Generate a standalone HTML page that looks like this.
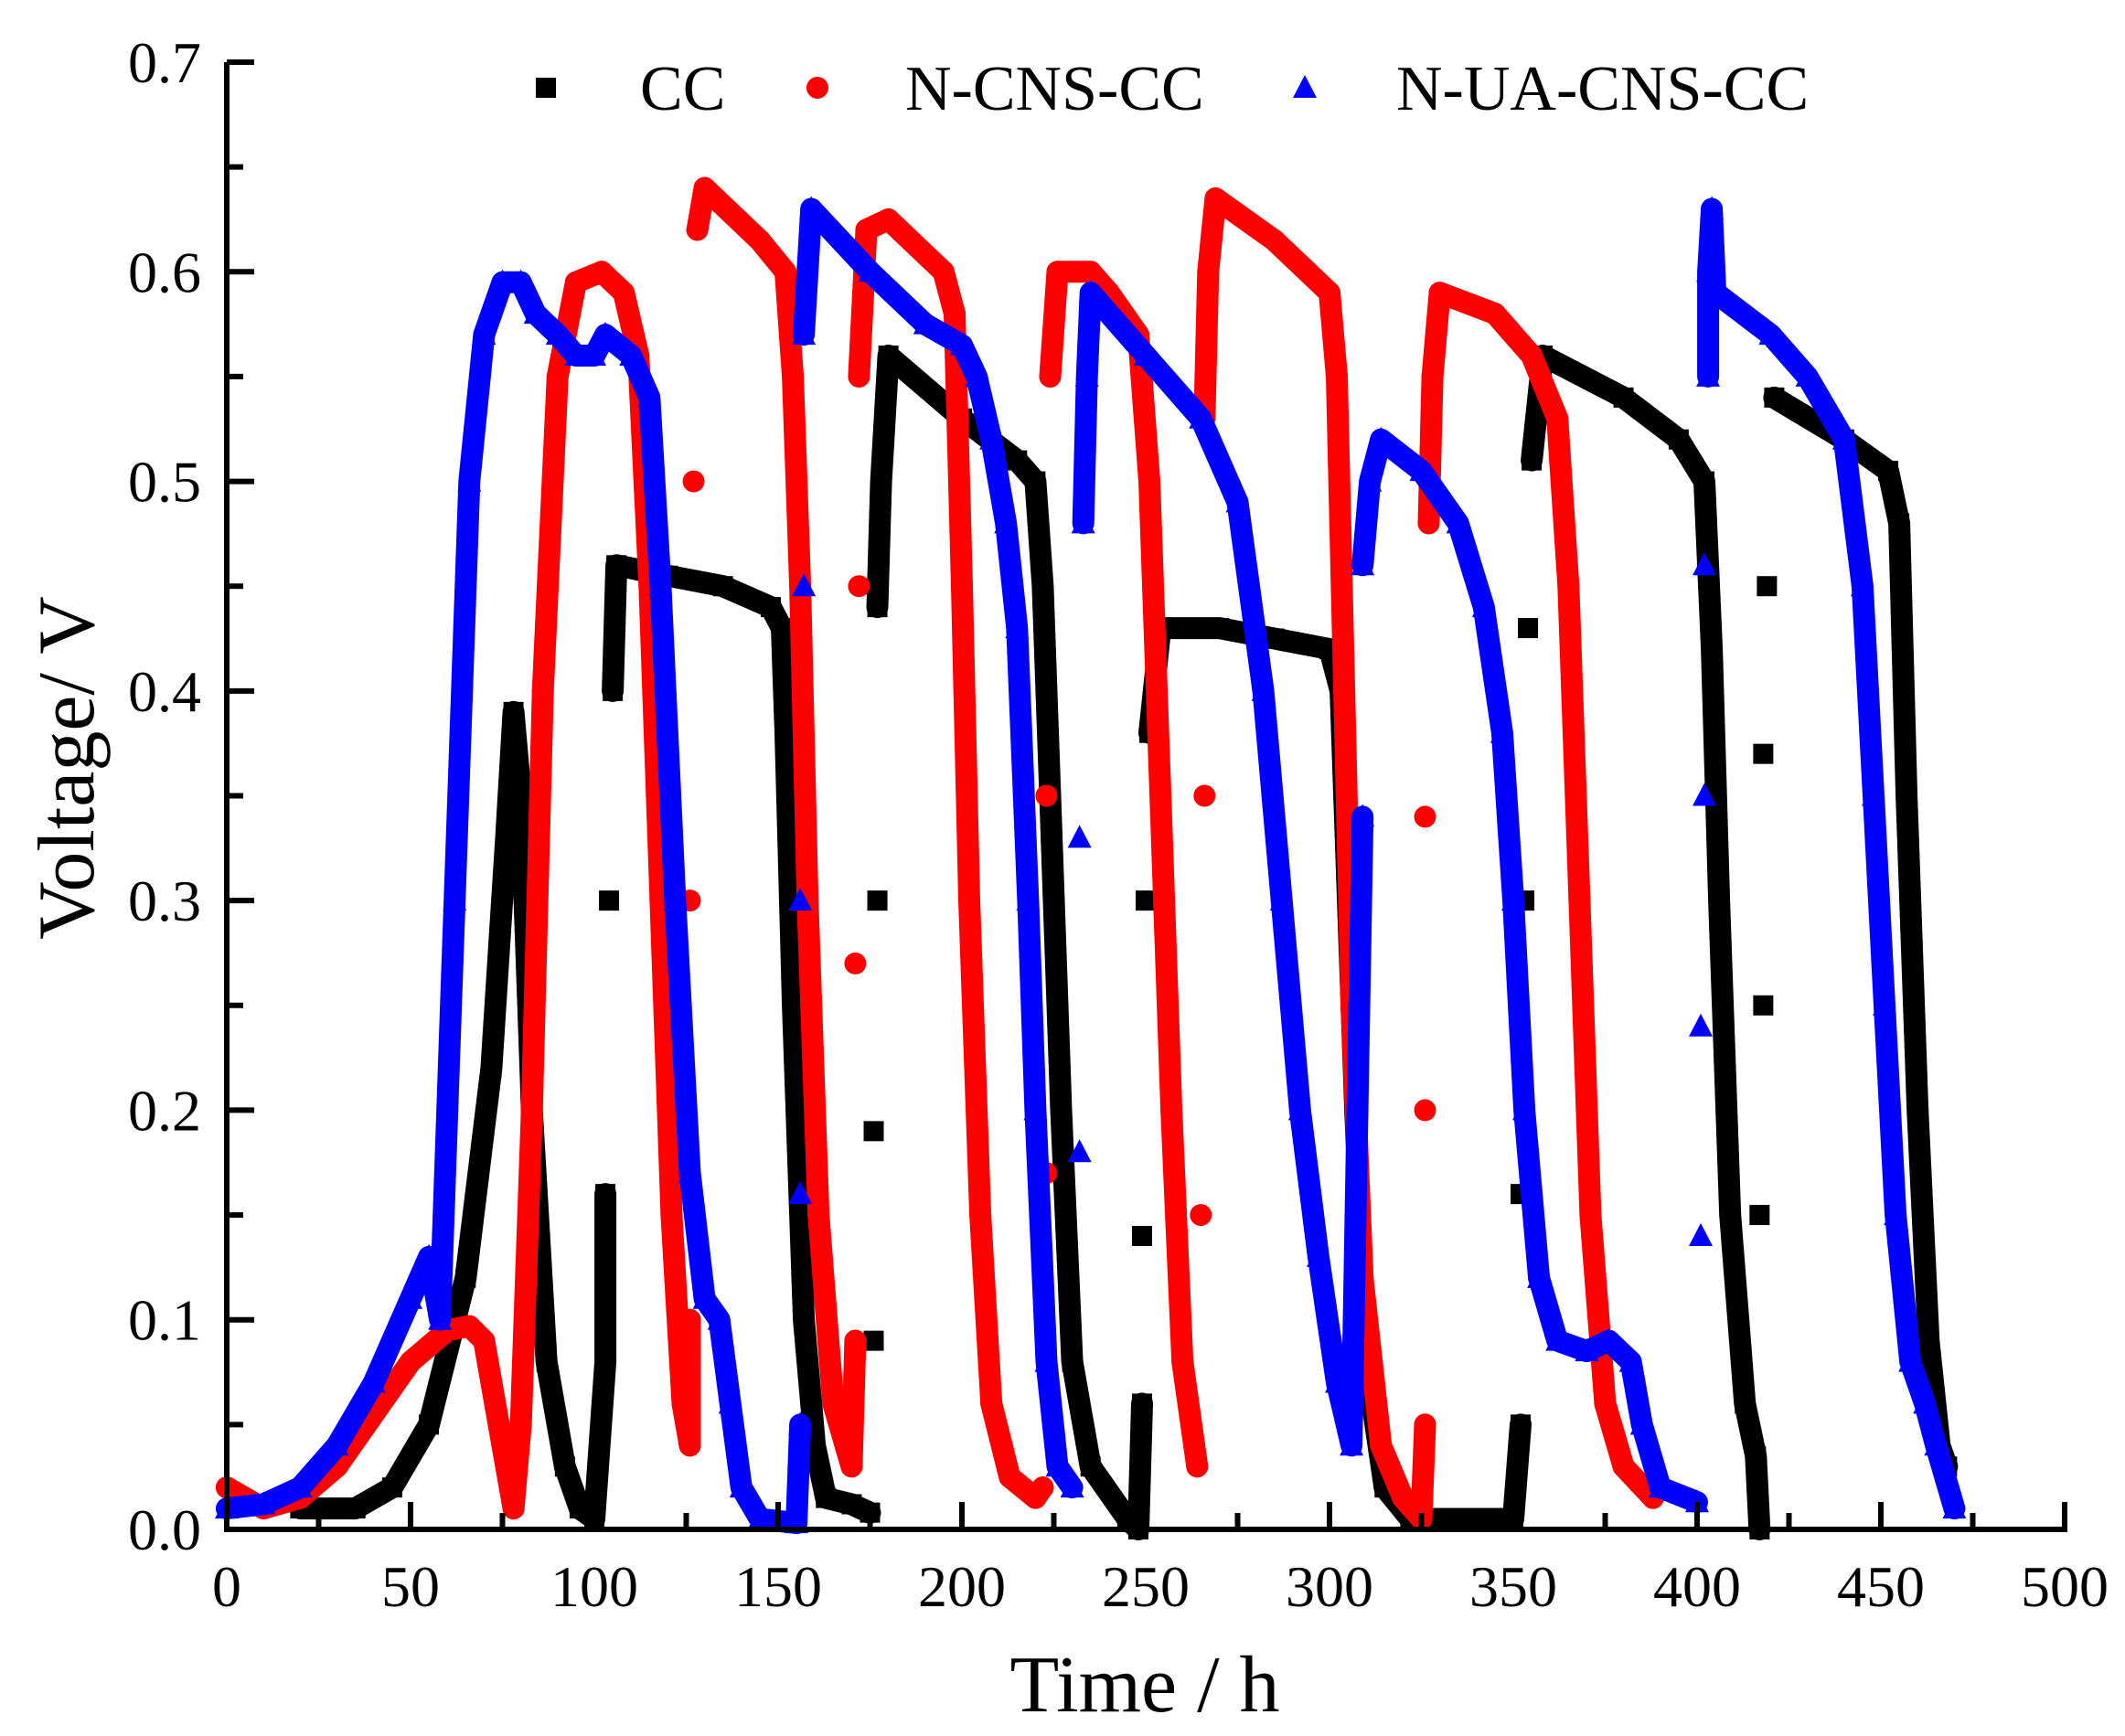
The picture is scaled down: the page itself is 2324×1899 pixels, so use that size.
<!DOCTYPE html>
<html><head><meta charset="utf-8"><style>
html,body{margin:0;padding:0;background:#fff;}
svg{display:block;font-family:"Liberation Serif",serif;}
</style></head><body>
<svg id="chart" width="2324" height="1899" viewBox="0 0 2324 1899" xmlns="http://www.w3.org/2000/svg">
<g id="plot"></g>
<g id="axes"></g>
<g id="legend"></g>
</svg>
<script>
const xTicks = [0,50,100,150,200,250,300,350,400,450,500];
const yTicks = [0.0,0.1,0.2,0.3,0.4,0.5,0.6,0.7];
const ccT = [20,35,45,55,65,72,76,78,80,83,87,92,96,100,103,103,104,105,106,120,135,148,151,152,154,157,160,163,170,175,176,176,177,177,178,180,200,215,220,222,224,227,230,235,245,248,249,249,250,251,254,270,285,300,303,305,307,310,315,322,350,352,352,353,354,355,358,380,395,402,404,406,409,413,416,417,417,418,418,419,421,440,452,455,457,460,463,466,468];
const ccV = [0.01,0.01,0.02,0.05,0.12,0.22,0.33,0.39,0.35,0.2,0.08,0.03,0.01,0.005,0.08,0.16,0.3,0.4,0.46,0.455,0.45,0.44,0.43,0.38,0.25,0.1,0.04,0.015,0.012,0.008,0.09,0.19,0.3,0.44,0.5,0.56,0.53,0.51,0.5,0.45,0.35,0.2,0.08,0.03,0.005,0.0,0.06,0.14,0.3,0.38,0.43,0.43,0.425,0.42,0.4,0.3,0.2,0.08,0.02,0.005,0.005,0.05,0.16,0.3,0.43,0.51,0.56,0.54,0.52,0.5,0.42,0.3,0.15,0.06,0.035,0.0,0.15,0.25,0.37,0.45,0.54,0.52,0.505,0.48,0.35,0.2,0.09,0.04,0.03];
const cnsT = [0,10,20,30,40,50,60,66,70,74,78,80,83,86,90,95,102,108,112,115,118,121,124,126,126,126,127,128,130,145,152,154,156,158,161,165,170,171,171,172,172,174,180,195,198,200,202,205,208,213,220,222,223,223,224,226,235,240,248,251,254,257,260,264,265,266,266,267,269,285,300,302,304,306,309,314,320,325,326,326,326,327,328,330,345,355,362,365,368,371,375,380,388];
const cnsV = [0.02,0.01,0.015,0.03,0.055,0.08,0.095,0.097,0.09,0.05,0.01,0.05,0.2,0.4,0.55,0.595,0.6,0.59,0.56,0.45,0.3,0.15,0.06,0.04,0.1,0.3,0.5,0.62,0.64,0.615,0.6,0.55,0.45,0.3,0.15,0.06,0.03,0.09,0.27,0.45,0.55,0.62,0.625,0.6,0.58,0.45,0.3,0.15,0.06,0.025,0.015,0.02,0.17,0.35,0.55,0.6,0.6,0.59,0.57,0.5,0.35,0.2,0.08,0.03,0.15,0.35,0.53,0.6,0.635,0.615,0.59,0.55,0.4,0.25,0.12,0.04,0.015,0.005,0.05,0.2,0.34,0.48,0.55,0.59,0.58,0.56,0.53,0.45,0.3,0.15,0.06,0.03,0.015];
const uaT = [0,10,20,30,40,50,55,58,62,66,70,75,80,84,90,95,100,103,110,115,118,122,126,130,134,137,140,145,155,156,156,156,157,157,159,175,190,200,204,208,212,215,218,220,223,226,230,232,232,233,234,235,250,265,275,282,287,292,297,302,306,309,309,311,314,325,335,342,347,350,353,357,362,370,376,382,385,390,400,401,401,402,402,403,403,404,405,420,430,440,445,448,451,454,458,462,465,470];
const uaV = [0.01,0.012,0.02,0.04,0.07,0.11,0.13,0.1,0.3,0.5,0.57,0.595,0.595,0.58,0.57,0.56,0.56,0.57,0.56,0.54,0.45,0.3,0.17,0.11,0.1,0.06,0.02,0.005,0.003,0.05,0.16,0.3,0.45,0.57,0.63,0.6,0.575,0.565,0.55,0.52,0.48,0.43,0.3,0.2,0.08,0.03,0.02,0.18,0.33,0.48,0.55,0.59,0.56,0.53,0.49,0.4,0.3,0.2,0.13,0.07,0.04,0.34,0.46,0.5,0.52,0.505,0.48,0.44,0.38,0.3,0.2,0.12,0.09,0.085,0.09,0.08,0.05,0.02,0.013,0.14,0.24,0.35,0.46,0.55,0.6,0.63,0.59,0.57,0.55,0.52,0.45,0.35,0.25,0.15,0.08,0.06,0.04,0.01];
const seriesNames = ["CC","N-CNS-CC","N-UA-CNS-CC"];

const NS="http://www.w3.org/2000/svg";
const X0=248,X1=2258,Y0=1673,Y1=68;
function xs(t){return X0+(t/500)*(X1-X0);}
function ys(v){return Y0-(v/0.7)*(Y0-Y1);}
function mk(tag,attrs,parent){const e=document.createElementNS(NS,tag);for(const k in attrs)e.setAttribute(k,attrs[k]);parent.appendChild(e);return e;}
const plot=document.getElementById('plot'),axes=document.getElementById('axes'),legend=document.getElementById('legend');

function marker(type,x,y,color,parent){
  let e;
  if(type==='sq'){e=mk('rect',{x:x-11,y:y-11,width:22,height:22,fill:color},parent);}
  else if(type==='ci'){e=mk('circle',{cx:x,cy:y,r:12,fill:color},parent);}
  else {e=mk('polygon',{points:`${x},${y-14} ${x-13},${y+11} ${x+13},${y+11}`,fill:color},parent);}
  return e;
}
function drawSeries(T,V,color,type,name){
  const g=mk('g',{},plot);
  
  
  let d='';
  for(let i=0;i<T.length;i++){
    const jump=i>0&&(V[i]-V[i-1])>0.08&&Math.abs(T[i]-T[i-1])<3;
    d+=(i===0||jump?'M':'L')+xs(T[i]).toFixed(1)+','+ys(V[i]).toFixed(1);
  }
  const p=mk('path',{d:d,fill:'none',stroke:color,'stroke-width':24,'stroke-linejoin':'round','stroke-linecap':'round'},g);
  
  
  for(let i=0;i<T.length;i++){
    const m=marker(type,xs(T[i]),ys(V[i]),color,g);
    
    
  }
}
drawSeries(ccT,ccV,'#000','sq','cc');
drawSeries(cnsT,cnsV,'#ff0000','ci','n-cns-cc');
drawSeries(uaT,uaV,'#0000ff','tr','n-ua-cns-cc');

// axes
const yl=mk('line',{x1:X0,y1:Y1,x2:X0,y2:Y0+3,stroke:'#000','stroke-width':6},axes);


const xl=mk('line',{x1:X0-3,y1:Y0,x2:X1+3,y2:Y0,stroke:'#000','stroke-width':6},axes);


xTicks.forEach((t,i)=>{
  const x=xs(t);
  mk('line',{x1:x,y1:Y0,x2:x,y2:Y0-30,stroke:'#000','stroke-width':6},axes);
  if(i<xTicks.length-1){const xm=xs(t+25);mk('line',{x1:xm,y1:Y0,x2:xm,y2:Y0-18,stroke:'#000','stroke-width':6},axes);}
  const tx=mk('text',{x:x,y:1757,'font-size':64,'text-anchor':'middle',fill:'#000'},axes);
  tx.textContent=String(t);
  
  
});
yTicks.forEach((v,i)=>{
  const y=ys(v);
  mk('line',{x1:X0,y1:y,x2:X0+30,y2:y,stroke:'#000','stroke-width':6},axes);
  if(i<yTicks.length-1){const ym=ys(v+0.05);mk('line',{x1:X0,y1:ym,x2:X0+18,y2:ym,stroke:'#000','stroke-width':6},axes);}
  const tx=mk('text',{x:220,y:y+22,'font-size':64,'text-anchor':'end',fill:'#000'},axes);
  tx.textContent=v.toFixed(1);
  
  
});
const xt=mk('text',{x:1252,y:1872,'font-size':88,'text-anchor':'middle',fill:'#000'},axes);
xt.textContent='Time / h';


const yt=mk('text',{x:0,y:0,'font-size':88,'text-anchor':'middle',fill:'#000',transform:'translate(102,840) rotate(-90)'},axes);
yt.textContent='Voltage/ V';



// legend
const legTypes=['sq','ci','tr'],legColors=['#000','#ff0000','#0000ff'],legMx=[597,894,1427],legTx=[700,990,1527];
seriesNames.forEach((n,i)=>{
  const g=mk('g',{},legend);
  
  
  marker(legTypes[i],legMx[i],96,legColors[i],g);
  const t=mk('text',{x:legTx[i],y:120,'font-size':70,fill:'#000'},g);
  t.textContent=n;
});
</script>
</body></html>
